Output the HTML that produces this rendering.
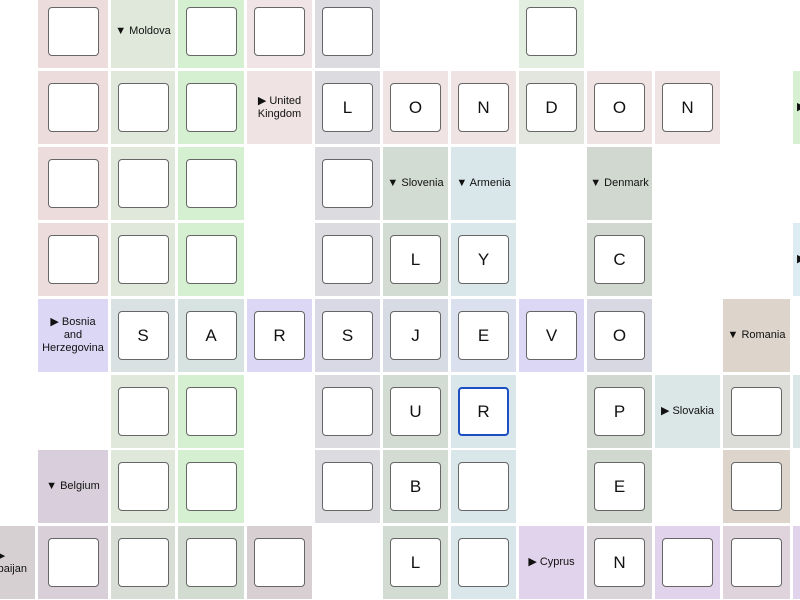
<!DOCTYPE html>
<html><head><meta charset="utf-8"><style>
body{margin:0;width:800px;height:600px;overflow:hidden;background:#fff;position:relative;font-family:"Liberation Sans",sans-serif}
.k{position:absolute;height:73px;display:flex;align-items:center;justify-content:center;text-align:center;font-size:11px;line-height:13px;color:#111}
.b{width:51px;height:49px;background:#fff;border:1.5px solid #666;border-radius:4px;box-sizing:border-box;display:flex;align-items:center;justify-content:center;font-size:17px;color:#111}
.h{border:2px solid #1c4fc4}
.c0{left:-33px;width:68px}.c1{left:38px;width:70px}.c2{left:111px;width:64px}.c3{left:178px;width:66px}.c4{left:247px;width:65px}.c5{left:315px;width:65px}.c6{left:383px;width:65px}.c7{left:451px;width:65px}.c8{left:519px;width:65px}.c9{left:587px;width:65px}.c10{left:655px;width:65px}.c11{left:723px;width:67px}.c12{left:793px;width:68px;justify-content:flex-start;padding-left:4px;box-sizing:border-box}
.r0{top:-5px}.r1{top:71px}.r2{top:147px}.r3{top:223px}.r4{top:299px}.r5{top:375px}.r6{top:450px}.r7{top:526px}
</style></head><body>
<!-- row0 -->
<div class="k c1 r0" style="background:#ecdcdb"><div class="b"></div></div>
<div class="k c2 r0" style="background:#dfe8da">▼ Moldova</div>
<div class="k c3 r0" style="background:#d5f0d0"><div class="b"></div></div>
<div class="k c4 r0" style="background:#f0e4e7"><div class="b"></div></div>
<div class="k c5 r0" style="background:#dcdbe0"><div class="b"></div></div>
<div class="k c8 r0" style="background:#e2efe0"><div class="b"></div></div>
<!-- row1 -->
<div class="k c1 r1" style="background:#ecdcdb"><div class="b"></div></div>
<div class="k c2 r1" style="background:#dfe8da"><div class="b"></div></div>
<div class="k c3 r1" style="background:#d5f0d0"><div class="b"></div></div>
<div class="k c4 r1" style="background:#efe3e4">▶ United<br>Kingdom</div>
<div class="k c5 r1" style="background:#dcdbe0"><div class="b">L</div></div>
<div class="k c6 r1" style="background:#efe3e3"><div class="b">O</div></div>
<div class="k c7 r1" style="background:#efe3e3"><div class="b">N</div></div>
<div class="k c8 r1" style="background:#e3e6df"><div class="b">D</div></div>
<div class="k c9 r1" style="background:#efe3e3"><div class="b">O</div></div>
<div class="k c10 r1" style="background:#efe3e3"><div class="b">N</div></div>
<div class="k c12 r1" style="background:#d8f0d2">▶</div>
<!-- row2 -->
<div class="k c1 r2" style="background:#ecdcdb"><div class="b"></div></div>
<div class="k c2 r2" style="background:#dfe8da"><div class="b"></div></div>
<div class="k c3 r2" style="background:#d5f0d0"><div class="b"></div></div>
<div class="k c5 r2" style="background:#dcdbe0"><div class="b"></div></div>
<div class="k c6 r2" style="background:#d3dcd3">▼ Slovenia</div>
<div class="k c7 r2" style="background:#d9e6ea">▼ Armenia</div>
<div class="k c9 r2" style="background:#d1d8d0">▼ Denmark</div>
<!-- row3 -->
<div class="k c1 r3" style="background:#ecdcdb"><div class="b"></div></div>
<div class="k c2 r3" style="background:#dfe8da"><div class="b"></div></div>
<div class="k c3 r3" style="background:#d5f0d0"><div class="b"></div></div>
<div class="k c5 r3" style="background:#dcdbe0"><div class="b"></div></div>
<div class="k c6 r3" style="background:#d3dcd3"><div class="b">L</div></div>
<div class="k c7 r3" style="background:#d9e6ea"><div class="b">Y</div></div>
<div class="k c9 r3" style="background:#d1d8d0"><div class="b">C</div></div>
<div class="k c12 r3" style="background:#dcecf2">▶</div>
<!-- row4 -->
<div class="k c1 r4" style="background:#dcd7f5">▶ Bosnia<br>and<br>Herzegovina</div>
<div class="k c2 r4" style="background:#d9e1e2"><div class="b">S</div></div>
<div class="k c3 r4" style="background:#d6e3e0"><div class="b">A</div></div>
<div class="k c4 r4" style="background:#dcd7f5"><div class="b">R</div></div>
<div class="k c5 r4" style="background:#d8d9e5"><div class="b">S</div></div>
<div class="k c6 r4" style="background:#d7dbe3"><div class="b">J</div></div>
<div class="k c7 r4" style="background:#dae0ee"><div class="b">E</div></div>
<div class="k c8 r4" style="background:#dcd7f5"><div class="b">V</div></div>
<div class="k c9 r4" style="background:#d8d8e3"><div class="b">O</div></div>
<div class="k c11 r4" style="background:#ddd5cc">▼ Romania</div>
<!-- row5 -->
<div class="k c2 r5" style="background:#dfe8da"><div class="b"></div></div>
<div class="k c3 r5" style="background:#d5f0d0"><div class="b"></div></div>
<div class="k c5 r5" style="background:#dcdbe0"><div class="b"></div></div>
<div class="k c6 r5" style="background:#d3dcd3"><div class="b">U</div></div>
<div class="k c7 r5" style="background:#d9e6ea"><div class="b h">R</div></div>
<div class="k c9 r5" style="background:#d1d8d0"><div class="b">P</div></div>
<div class="k c10 r5" style="background:#dbe7e6">▶ Slovakia</div>
<div class="k c11 r5" style="background:#dcdcd8"><div class="b"></div></div>
<div class="k c12 r5" style="background:#dbe7e6;padding-left:8px"><div class="b"></div></div>
<!-- row6 -->
<div class="k c1 r6" style="background:#d9cfdc">▼ Belgium</div>
<div class="k c2 r6" style="background:#dfe8da"><div class="b"></div></div>
<div class="k c3 r6" style="background:#d5f0d0"><div class="b"></div></div>
<div class="k c5 r6" style="background:#dcdbe0"><div class="b"></div></div>
<div class="k c6 r6" style="background:#d3dcd3"><div class="b">B</div></div>
<div class="k c7 r6" style="background:#d9e6ea"><div class="b"></div></div>
<div class="k c9 r6" style="background:#d1d8d0"><div class="b">E</div></div>
<div class="k c11 r6" style="background:#ddd5cc"><div class="b"></div></div>
<!-- row7 -->
<div class="k c0 r7" style="background:#d7d0d3">▶<br>Azerbaijan</div>
<div class="k c1 r7" style="background:#d9cfd8"><div class="b"></div></div>
<div class="k c2 r7" style="background:#d8ddd5"><div class="b"></div></div>
<div class="k c3 r7" style="background:#d3dcd0"><div class="b"></div></div>
<div class="k c4 r7" style="background:#d8cfd3"><div class="b"></div></div>
<div class="k c6 r7" style="background:#d3dcd3"><div class="b">L</div></div>
<div class="k c7 r7" style="background:#d9e6ea"><div class="b"></div></div>
<div class="k c8 r7" style="background:#e2d3ec">▶ Cyprus</div>
<div class="k c9 r7" style="background:#d8d4d8"><div class="b">N</div></div>
<div class="k c10 r7" style="background:#e2d3ec"><div class="b"></div></div>
<div class="k c11 r7" style="background:#dfd4db"><div class="b"></div></div>
<div class="k c12 r7" style="background:#e2d3ec;padding-left:8px"><div class="b"></div></div>
</body></html>
